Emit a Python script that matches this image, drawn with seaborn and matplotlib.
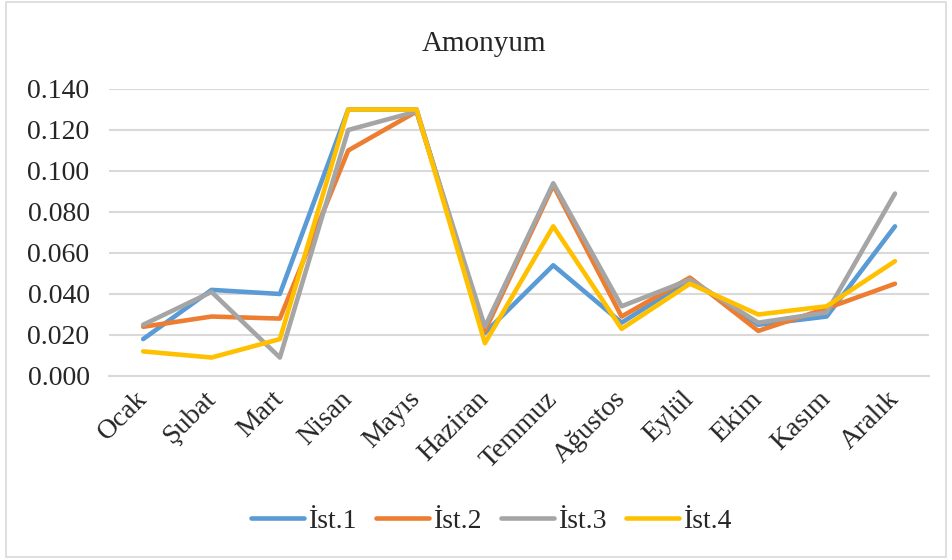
import pandas as pd
import seaborn as sns
import matplotlib.pyplot as plt
import matplotlib.patches as patches
from matplotlib.ticker import FormatStrFormatter
from matplotlib.lines import Line2D

months = ["Ocak", "Şubat", "Mart", "Nisan", "Mayıs", "Haziran", "Temmuz",
          "Ağustos", "Eylül", "Ekim", "Kasım", "Aralık"]
ist1 = [0.018, 0.042, 0.040, 0.130, 0.130, 0.021, 0.054, 0.026, 0.047, 0.025, 0.029, 0.073]
ist2 = [0.024, 0.029, 0.028, 0.110, 0.129, 0.022, 0.093, 0.029, 0.048, 0.022, 0.033, 0.045]
ist3 = [0.025, 0.041, 0.009, 0.120, 0.129, 0.024, 0.094, 0.034, 0.047, 0.026, 0.031, 0.089]
ist4 = [0.012, 0.009, 0.018, 0.130, 0.130, 0.016, 0.073, 0.023, 0.045, 0.030, 0.034, 0.056]
series_names = ["İst.1", "İst.2", "İst.3", "İst.4"]
colors = ["#5B9BD5", "#ED7D31", "#A5A5A5", "#FFC000"]
yticks = [0.000, 0.020, 0.040, 0.060, 0.080, 0.100, 0.120, 0.140]

sns.set_style("white")
plt.rcParams['font.family'] = ['Liberation Serif', 'DejaVu Serif']

rows = []
for name, vals in zip(series_names, [ist1, ist2, ist3, ist4]):
    for m, v in zip(months, vals):
        rows.append([m, v, name])
df = pd.DataFrame(rows, columns=["Ay", "Değer", "İstasyon"])
df["Ay"] = pd.Categorical(df["Ay"], categories=months, ordered=True)
df["x"] = df["Ay"].cat.codes

fig = plt.figure(figsize=(9.52, 5.6), dpi=100)
ax = fig.add_axes([0.1145, 0.3286, 0.8615, 0.5125])

sns.lineplot(data=df, x="x", y="Değer", hue="İstasyon", palette=colors,
             hue_order=series_names, linewidth=3.3, ax=ax, legend=False,
             sort=False)
for ln in ax.get_lines():
    ln.set_solid_capstyle('round')
    ln.set_solid_joinstyle('round')

ax.set_xlim(-0.5, len(months) - 0.5)
ax.set_ylim(0, 0.14)
ax.set_yticks(yticks)
ax.yaxis.set_major_formatter(FormatStrFormatter('%.3f'))
ax.set_xticks(range(len(months)))
ax.set_xticklabels(months, rotation=45, ha='right', va='center',
                   rotation_mode='anchor')
ax.tick_params(axis='y', labelsize=20, length=0, pad=14)
ax.tick_params(axis='x', labelsize=20, length=0, pad=14)
ax.grid(axis='y', color='#d9d9d9', linewidth=1.5)
ax.set_axisbelow(True)
for side in ['left', 'right', 'top']:
    ax.spines[side].set_visible(False)
ax.spines['bottom'].set_color('#d9d9d9')
ax.spines['bottom'].set_linewidth(1.5)
ax.set_xlabel("")
ax.set_ylabel("")

fig.text(0.508, 0.922, "Amonyum", ha='center', va='center', fontsize=21)

handles = [Line2D([0], [0], color=c, linewidth=3.3, solid_capstyle='round')
           for c in colors]
fig.legend(handles, series_names, loc='center', ncol=4, frameon=False,
           bbox_to_anchor=(0.516, 0.07), fontsize=20, handlelength=1.9,
           handletextpad=0.15, columnspacing=0.7)

fig.patches.append(patches.Rectangle((0.006, 0.006), 0.988, 0.99,
                                     transform=fig.transFigure, fill=False,
                                     edgecolor='#d9d9d9', linewidth=1.2))

fig.savefig("out.png", dpi=100)
